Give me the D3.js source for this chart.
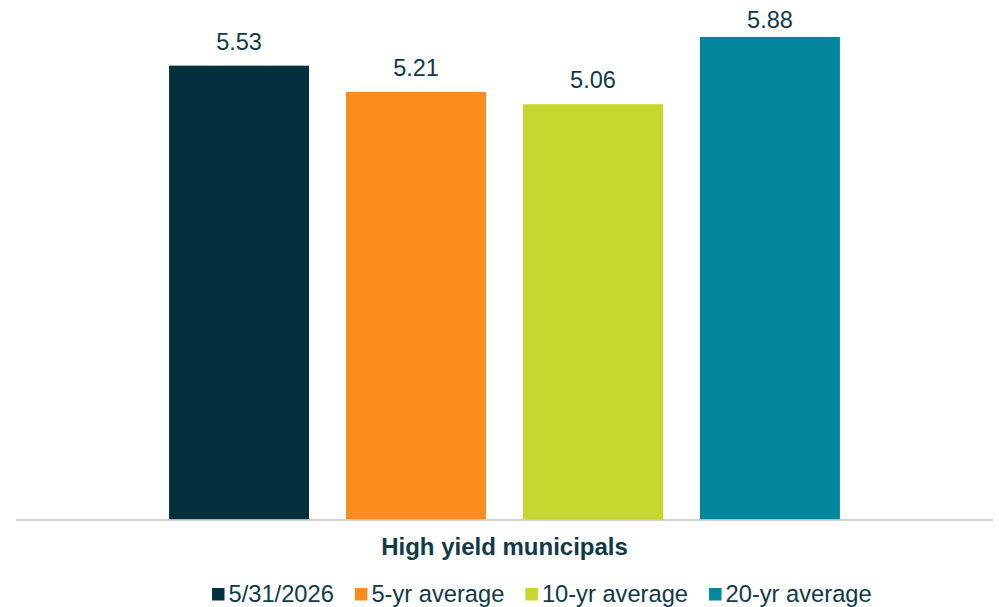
<!DOCTYPE html>
<html>
<head>
<meta charset="utf-8">
<script src="https://cdn.jsdelivr.net/npm/d3@7"></script>
<style>
  html, body { margin: 0; padding: 0; background: #ffffff; }
  svg { display: block; }
  text { font-family: "Liberation Sans", Arial, sans-serif; fill: #0f3a46; }
</style>
</head>
<body>
<svg id="chart" width="999" height="607"></svg>
<script>
const categories = ["5/31/2026", "5-yr average", "10-yr average", "20-yr average"];
const values = [5.53, 5.21, 5.06, 5.88];
const colors = ["#03303d", "#fd8c1f", "#c6d72e", "#04879c"];
const groupLabel = "High yield municipals";

const svg = d3.select("#chart");
const baseY = 519.5;

const x = d3.scaleBand()
  .domain(categories)
  .range([16, 993])
  .paddingInner(0.209)
  .paddingOuter(0.865);

const y = d3.scaleLinear()
  .domain([0, 6.33])
  .range([baseY, 0]);

// bars
svg.append("g").selectAll("rect")
  .data(categories)
  .join("rect")
  .attr("x", d => x(d))
  .attr("width", x.bandwidth())
  .attr("y", (d, i) => y(values[i]))
  .attr("height", (d, i) => baseY - y(values[i]))
  .attr("fill", (d, i) => colors[i]);

// value labels
svg.append("g").selectAll("text")
  .data(categories)
  .join("text")
  .attr("x", d => x(d) + x.bandwidth() / 2)
  .attr("y", (d, i) => Math.max(y(values[i]) - 16, 28))
  .attr("text-anchor", "middle")
  .attr("font-size", "23.5px")
  .text((d, i) => values[i].toFixed(2));

// axis line
const axis = d3.axisBottom(x).tickSize(0).tickFormat("");
const ag = svg.append("g")
  .attr("transform", `translate(0,${baseY})`)
  .call(axis);
ag.select(".domain")
  .attr("stroke", "#bfbfbf")
  .attr("stroke-width", 1.6)
  .attr("d", "M16,0.5H993");

// group label
svg.append("text")
  .attr("x", (16 + 993) / 2)
  .attr("y", 555)
  .attr("text-anchor", "middle")
  .attr("font-size", "24px")
  .attr("font-weight", "bold")
  .text(groupLabel);

// legend
const legend = svg.append("g");
let lx = 212;
categories.forEach((c, i) => {
  const g = legend.append("g");
  g.append("rect")
    .attr("x", lx).attr("y", 588)
    .attr("width", 12.5).attr("height", 12.5)
    .attr("fill", colors[i]);
  const t = g.append("text")
    .attr("x", lx + 16.5)
    .attr("y", 602)
    .attr("font-size", "23.7px")
    .text(c);
  const w = t.node().getComputedTextLength();
  lx = lx + 16.5 + w + 21;
});
</script>
</body>
</html>
